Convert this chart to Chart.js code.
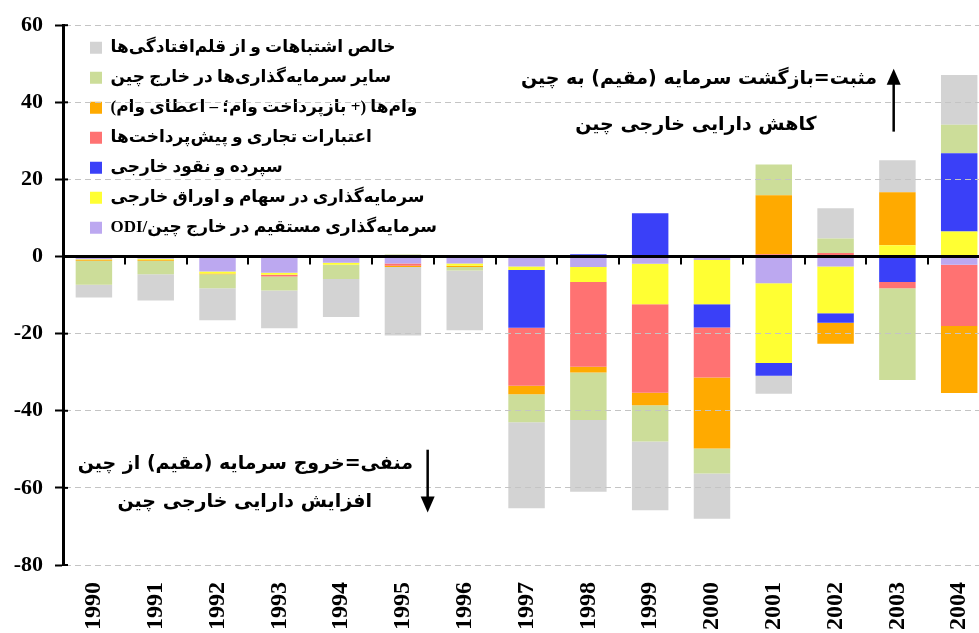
<!DOCTYPE html>
<html>
<head>
<meta charset="utf-8">
<script src="https://cdn.jsdelivr.net/npm/chart.js@4.4.1/dist/chart.umd.min.js"></script>
<style>
html, body { margin: 0; padding: 0; background: #fff; overflow: hidden; }
#wrap { position: relative; width: 1005px; height: 633px; }
</style>
</head>
<body>
<div id="wrap"><canvas id="flowChart"></canvas></div>
<script>
//years on the x axis
const years = ['1990','1991','1992','1993','1994','1995','1996','1997','1998','1999','2000','2001','2002','2003','2004'];

//series, stacked from the zero line outwards (billion USD)
const odi       = [-0.7,-0.6,-3.9,-4.2,-1.6,-1.8,-1.8,-2.6,-2.7,-1.9,-0.9,-6.9,-2.6,0,-2.1];
const portfolio = [-0.2,-0.3,-0.5,-0.5,-0.5,0,-0.6,-0.9,-3.9,-10.5,-11.5,-20.7,-12.1,2.9,6.5];
const deposits  = [0,0,0,0,0,0,0,-15.0,0.6,11.2,-6.0,-3.3,-2.5,-6.6,20.3];
const tradeCred = [0,0,0,-0.5,0,-0.6,0,-15.0,-22.0,-22.9,-13.0,0.6,0.9,-1.6,-15.9];
const loans     = [-0.2,-0.2,-0.2,0,0,-0.3,-0.3,-2.2,-1.5,-3.3,-18.4,15.3,-5.4,13.8,-17.4];
const otherInv  = [-6.2,-3.5,-3.6,-3.6,-3.7,0.5,-0.9,-7.3,-12.3,-9.4,-6.5,8.0,3.8,-23.8,7.4];
const errors    = [-3.3,-6.8,-8.3,-9.8,-9.9,-17.8,-15.5,-22.3,-18.6,-17.8,-11.7,-4.7,7.8,8.3,12.9];

//legend names, same order as the series above
const seriesNames = [
    'سرمایه‌گذاری مستقیم در خارج چین/ODI',
    'سرمایه‌گذاری در سهام و اوراق خارجی',
    'سپرده و نقود خارجی',
    'اعتبارات تجاری و پیش‌پرداخت‌ها',
    'وام‌ها (+ بازپرداخت وام؛ – اعطای وام)',
    'سایر سرمایه‌گذاری‌ها در خارج چین',
    'خالص اشتباهات و از قلم‌افتادگی‌ها'
];
const seriesColors = ['#BCA8F0','#FFFF33','#3A40F8','#FF7272','#FFAA00','#CCDD99','#D3D3D3'];

//y axis ticks
const yMin = -80, yMax = 60, yStep = 20;

//side notes (text lines + arrows), placed in data units
const notes = [
    {text: 'مثبت=بازگشت سرمایه (مقیم) به چین', at: [9.79, 46.1]},
    {text: 'کاهش دارایی خارجی چین', at: [9.74, 34.2]},
    {text: 'منفی=خروج سرمایه (مقیم) از چین', at: [2.45, -53.8]},
    {text: 'افزایش دارایی خارجی چین', at: [2.44, -63.6]}
];
const arrows = [
    {x: 12.94, from: 32.4, to: 48.7},
    {x: 5.40, from: -50.1, to: -66.4}
];

const serifBold = '"Liberation Serif", "DejaVu Sans", serif';
const rtl = s => '\u202B' + s + '\u202C'; //embed persian text right-to-left

//zero line, small year ticks and the notes
const extras = {
    id: 'extras',
    afterLayout(chart) {
        //put the legend inside the plot, a bit away from the axis
        chart.legend.left = chart.chartArea.left + 14;
        chart.legend.top = chart.chartArea.top + 1;
    },
    afterDraw(chart) {
        const {ctx, chartArea, scales: {x, y}} = chart;
        const y0 = y.getPixelForValue(0);
        ctx.save();
        ctx.strokeStyle = '#000';
        ctx.fillStyle = '#000';
        ctx.lineWidth = 3;
        ctx.beginPath();
        ctx.moveTo(chartArea.left, y0);
        ctx.lineTo(chartArea.right, y0);
        ctx.stroke();

        ctx.lineWidth = 2;
        for (let i = 1; i < years.length; i++) { //ticks between years
            const px = Math.round(x.getPixelForValue(i - 0.5));
            ctx.beginPath();
            ctx.moveTo(px, y0);
            ctx.lineTo(px, y0 + 8);
            ctx.stroke();
        }
        y.ticks.forEach(t => { //inner half of y ticks
            const py = y.getPixelForValue(t.value);
            ctx.beginPath();
            ctx.moveTo(chartArea.left, py);
            ctx.lineTo(chartArea.left + 5, py);
            ctx.stroke();
        });

        ctx.direction = 'rtl';
        ctx.textAlign = 'center';
        ctx.textBaseline = 'middle';
        ctx.font = 'bold 19px "DejaVu Sans"';
        notes.forEach(n => ctx.fillText(n.text, x.getPixelForValue(n.at[0]), y.getPixelForValue(n.at[1])));

        ctx.lineWidth = 2.5;
        arrows.forEach(a => {
            const px = x.getPixelForValue(a.x);
            const pFrom = y.getPixelForValue(a.from);
            const pTo = y.getPixelForValue(a.to);
            const dir = Math.sign(pTo - pFrom);
            ctx.beginPath();
            ctx.moveTo(px, pFrom);
            ctx.lineTo(px, pTo - dir * 12);
            ctx.stroke();
            ctx.beginPath();
            ctx.moveTo(px, pTo);
            ctx.lineTo(px - 7, pTo - dir * 16);
            ctx.lineTo(px + 7, pTo - dir * 16);
            ctx.closePath();
            ctx.fill();
        });
        ctx.restore();
    }
};

const seriesData = [odi, portfolio, deposits, tradeCred, loans, otherInv, errors];

const flowChart = new Chart(document.getElementById('flowChart'), {
    type: 'bar',
    data: {
        labels: years,
        datasets: seriesData.map((d, i) => ({
            label: rtl(seriesNames[i]),
            data: d,
            backgroundColor: seriesColors[i],
            borderWidth: 0,
            barPercentage: 0.59,
            categoryPercentage: 1
        }))
    },
    options: {
        responsive: true,
        maintainAspectRatio: false,
        devicePixelRatio: 1,
        animation: false,
        layout: {padding: {top: 23, right: 0, bottom: 0, left: 0}},
        scales: {
            x: {
                stacked: true,
                grid: {display: false, drawTicks: false},
                border: {display: false},
                ticks: {
                    color: '#000',
                    autoSkip: false,
                    minRotation: 90,
                    maxRotation: 90,
                    padding: 17,
                    font: {family: serifBold, size: 24, weight: 'bold'}
                },
                afterFit: s => { s.height = 68; }
            },
            y: {
                stacked: true,
                min: yMin,
                max: yMax,
                grid: {
                    color: '#c4c4c4',
                    lineWidth: 1,
                    z: 1, //dashed lines run over the bars
                    tickLength: 8,
                    tickColor: '#000',
                    tickWidth: 2
                },
                border: {display: true, color: '#000', width: 3, dash: [6, 4], z: 1},
                ticks: {
                    stepSize: yStep,
                    color: '#000',
                    padding: 12,
                    font: {family: serifBold, size: 22, weight: 'bold'}
                },
                afterFit: s => { s.width = 63; }
            }
        },
        plugins: {
            tooltip: {enabled: false},
            legend: {
                position: 'chartArea',
                align: 'start',
                reverse: true,
                labels: {
                    color: '#000',
                    boxWidth: 12,
                    boxHeight: 12,
                    padding: 13,
                    font: {family: serifBold, size: 17, weight: 'bold'}
                }
            }
        }
    },
    plugins: [extras]
});
</script>
</body>
</html>
